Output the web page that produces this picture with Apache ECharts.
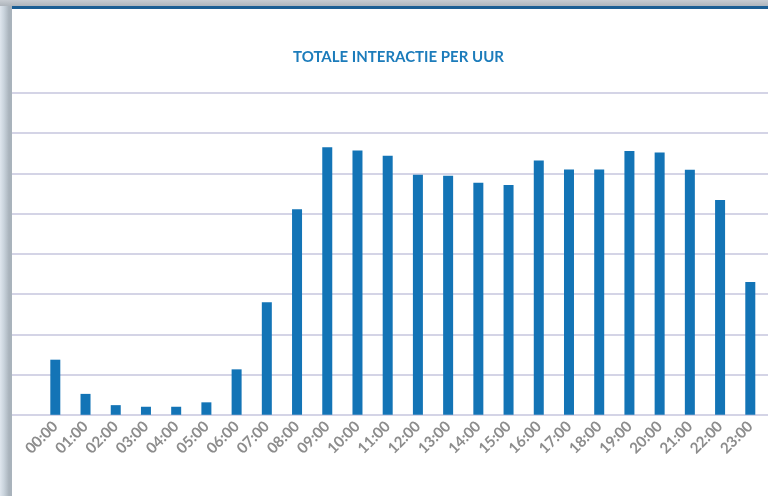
<!DOCTYPE html>
<html><head><meta charset="utf-8">
<script src="https://cdn.jsdelivr.net/npm/echarts@6/dist/echarts.min.js"></script>
<style>
html,body{margin:0;padding:0;width:768px;height:496px;overflow:hidden;}
body{position:relative;background:linear-gradient(to right,#dfe6ee 0px,#c9d3dc 4px,#a9b3bc 9px,#a9b3bc 12px);}
#topbar{position:absolute;left:0;top:0;width:768px;height:6px;background:linear-gradient(to bottom,#c7ccd2,#aeb5bc);}
#panel{position:absolute;left:12px;top:6px;width:756px;height:490px;background:#fff;border-top:3px solid #1b5e94;box-sizing:border-box;}
#chart{position:absolute;left:0;top:0;width:768px;height:496px;}
</style></head>
<body>
<div id="topbar"></div>
<div id="panel"></div>
<div id="chart"></div>
<script>
const categories = ['00:00','01:00','02:00','03:00','04:00','05:00','06:00','07:00','08:00','09:00','10:00','11:00','12:00','13:00','14:00','15:00','16:00','17:00','18:00','19:00','20:00','21:00','22:00','23:00'];
const interactions = [137,52,24,20,20,31,113,280,511,665,657,644,597,594,577,571,632,610,610,656,652,609,534,330];
const yMin = 0, yMax = 800, yStep = 100;
const titleText = 'TOTALE INTERACTIE PER UUR';

const chart = echarts.init(document.getElementById('chart'), null, {renderer:'canvas'});
chart.setOption({
  backgroundColor: 'transparent',
  animation: false,
  title: {
    text: titleText, left: 288, top: 45,
    textStyle: {color:'#1c7cbb', fontSize:15, fontWeight:'bold', fontFamily:'Lato'}
  },
  grid: [
    {left:40.2, right:2.6, top:93, bottom:81.2},
    {left:12, right:0, top:93, bottom:81.2}
  ],
  xAxis: [
    {type:'category', data:categories, gridIndex:0,
     axisLine:{show:false}, axisTick:{show:false},
     axisLabel:{rotate:45, interval:0, margin:9, color:'#8c8c8c', fontSize:15, fontWeight:'bold', fontFamily:'Lato'}},
    {type:'value', gridIndex:1, show:false, min:0, max:1}
  ],
  yAxis: [
    {type:'value', gridIndex:0, min:yMin, max:yMax, interval:yStep, show:false, splitLine:{show:false}},
    {type:'value', gridIndex:1, min:yMin, max:yMax, interval:yStep,
     axisLine:{show:false}, axisTick:{show:false}, axisLabel:{show:false},
     splitLine:{show:true, lineStyle:{color:'#c6c6de', width:1.5}}}
  ],
  series: [{
    type:'bar', data:interactions, xAxisIndex:0, yAxisIndex:0,
    barWidth:10, itemStyle:{color:'#1374b6'}
  }]
});
</script>
</body></html>
